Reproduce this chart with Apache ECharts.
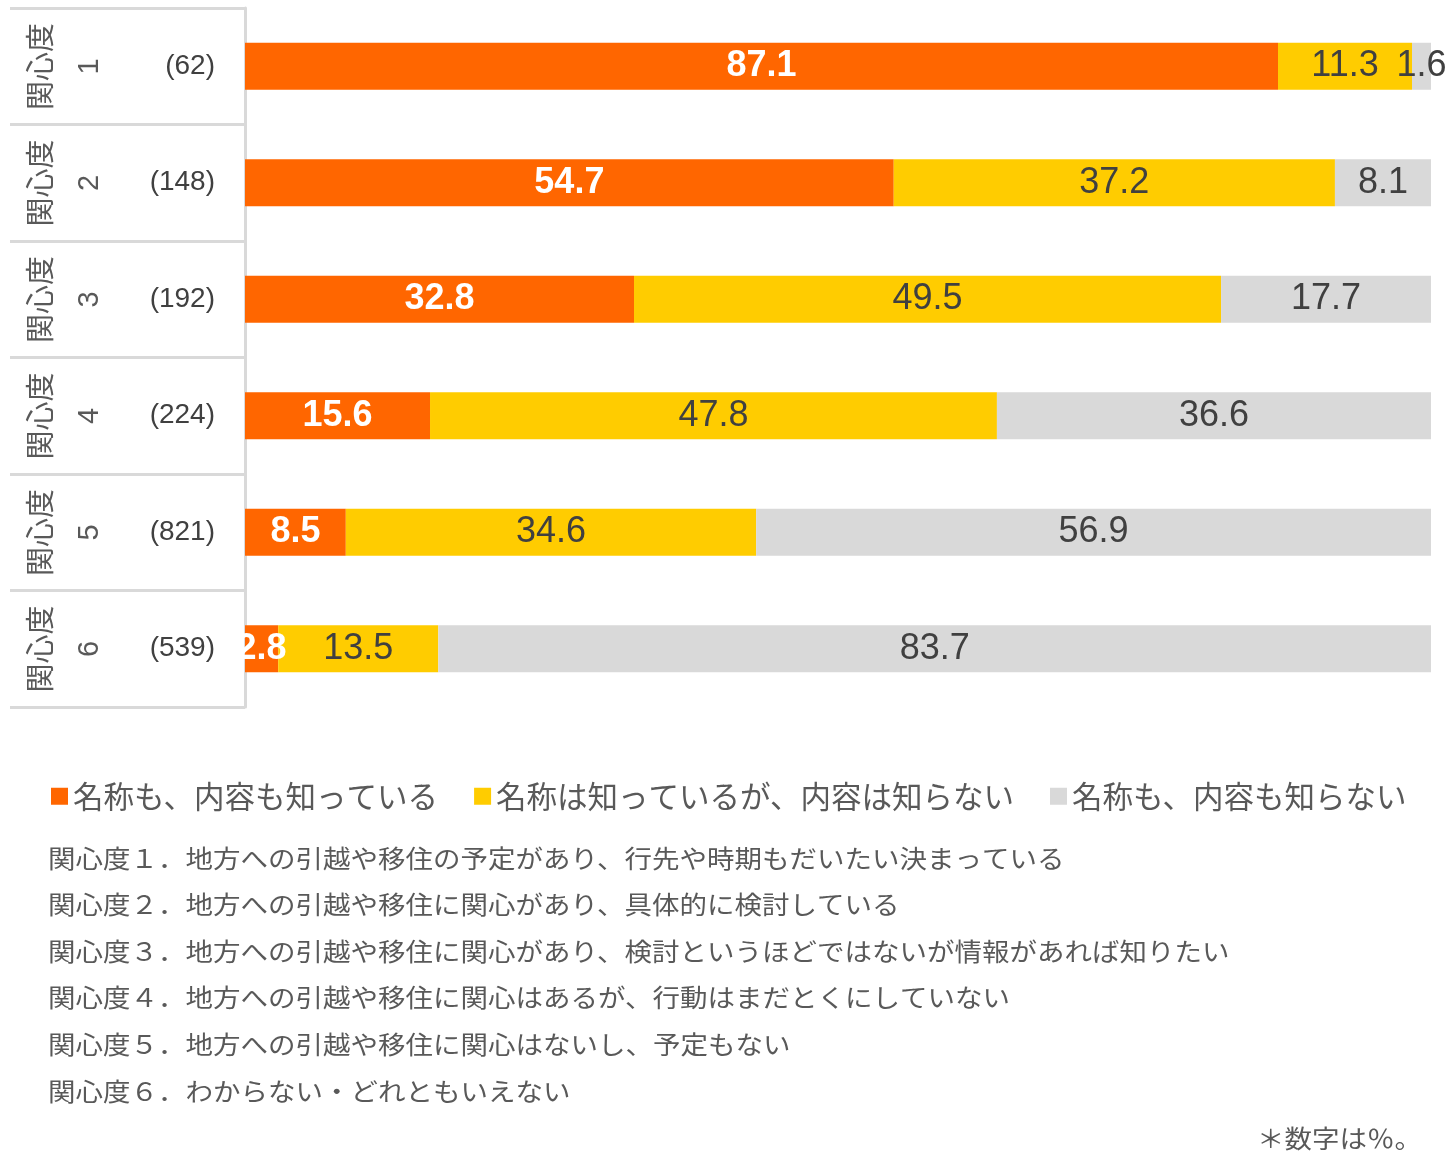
<!DOCTYPE html>
<html>
<head>
<meta charset="utf-8">
<script src="https://cdn.jsdelivr.net/npm/echarts@6/dist/echarts.min.js"></script>
<style>html,body{margin:0;padding:0;background:#fff}#main{width:1453px;height:1156px}</style>
</head>
<body>
<div id="main"></div>
<script>
const levelDigits = ['1', '2', '3', '4', '5', '6'];
const counts = ['(62)', '(148)', '(192)', '(224)', '(821)', '(539)'];
const knowBoth = [87.1, 54.7, 32.8, 15.6, 8.5, 2.8];
const nameOnly = [11.3, 37.2, 49.5, 47.8, 34.6, 13.5];
const neither = [1.6, 8.1, 17.7, 36.6, 56.9, 83.7];
const seriesNames = ['名称も、内容も知っている', '名称は知っているが、内容は知らない', '名称も、内容も知らない'];
const notes = [
  '関心度１．地方への引越や移住の予定があり、行先や時期もだいたい決まっている',
  '関心度２．地方への引越や移住に関心があり、具体的に検討している',
  '関心度３．地方への引越や移住に関心があり、検討というほどではないが情報があれば知りたい',
  '関心度４．地方への引越や移住に関心はあるが、行動はまだとくにしていない',
  '関心度５．地方への引越や移住に関心はないし、予定もない',
  '関心度６．わからない・どれともいえない'
];

const font = '"Liberation Sans", "Noto Sans CJK JP", sans-serif';
const jp = '"Noto Sans CJK JP", sans-serif';
const colors = ['#FF6600', '#FFCC00', '#D9D9D9'];

const myChart = echarts.init(document.getElementById('main'));

const seriesData = [knowBoth, nameOnly, neither].map((d, i) => ({
  name: seriesNames[i],
  type: 'bar',
  stack: 'all',
  barWidth: 47,
  data: d,
  itemStyle: { color: colors[i] },
  label: {
    show: true,
    position: 'inside',
    fontFamily: font,
    fontSize: 36,
    fontWeight: i === 0 ? 'bold' : 'normal',
    color: i === 0 ? '#fff' : '#404040',
    formatter: p => p.value.toFixed(1)
  },
  labelLayout: { hideOverlap: false }
}));

// rotated level labels in the left table
const graphics = [];
levelDigits.forEach((t, i) => {
  const cy = 66.5 + i * 116.5;
  graphics.push({
    type: 'text', x: 40, y: cy, rotation: Math.PI / 2,
    style: { text: '関心度', font: '29px ' + jp, fill: '#595959', align: 'center', verticalAlign: 'middle' }
  });
  graphics.push({
    type: 'text', x: 90, y: cy, rotation: Math.PI / 2,
    style: { text: t, font: '29px ' + font, fill: '#595959', align: 'center', verticalAlign: 'middle' }
  });
});
notes.forEach((t, i) => graphics.push({
  type: 'text', x: 48, y: 858 + i * 46.6, scaleX: 1.1,
  style: { text: t, font: '25px ' + jp, fill: '#595959', verticalAlign: 'middle' }
}));
graphics.push({
  type: 'text', x: 1422, y: 1138, scaleX: 1.1,
  style: { text: '＊数字は％。', font: '25px ' + jp, fill: '#595959', align: 'right', verticalAlign: 'middle' }
});

myChart.setOption({
  animation: false,
  textStyle: { fontFamily: font },
  grid: { left: 245, right: 22, top: 8, bottom: 449, containLabel: false },
  legend: {
    left: 46, top: 776,
    itemWidth: 17, itemHeight: 17, itemGap: 36,
    icon: 'rect',
    textStyle: { fontFamily: jp, fontSize: 30.5, color: '#595959' }
  },
  xAxis: { type: 'value', min: 0, max: 100, show: false },
  yAxis: {
    type: 'category',
    inverse: true,
    data: counts,
    axisLine: { show: true, lineStyle: { color: '#d9d9d9', width: 3 } },
    axisTick: { show: true, length: 235, lineStyle: { color: '#d9d9d9', width: 3 } },
    axisLabel: { margin: 30, fontSize: 28, color: '#404040', fontFamily: font }
  },
  series: seriesData,
  graphic: graphics
});
</script>
</body>
</html>
